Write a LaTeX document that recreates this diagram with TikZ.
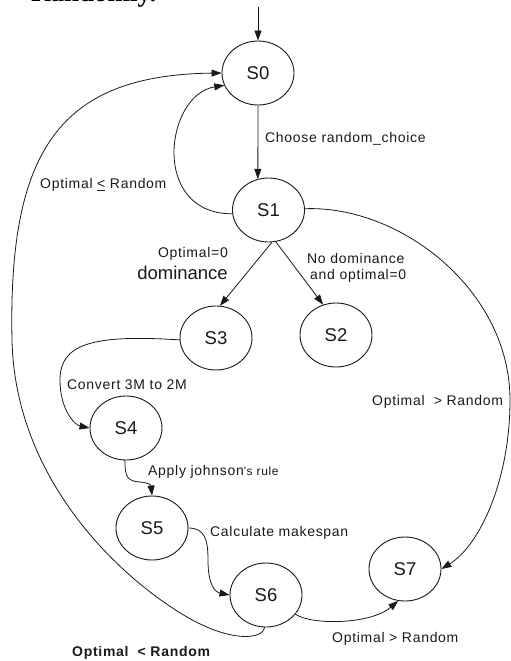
\documentclass[tikz,border=0pt]{standalone}
\usepackage{fontspec}
\setmainfont{Liberation Sans}
\newfontfamily\labelfont[LetterSpace=5]{Liberation Sans}
\newfontfamily\headfont{Liberation Serif}
\usetikzlibrary{arrows.meta, shapes.geometric}
\definecolor{Ink}{HTML}{1A1A1A}
\definecolor{Paper}{HTML}{FFFFFF}

\begin{document}
\begin{tikzpicture}[x=1pt,y=-1pt,>={Triangle[length=10pt,width=7pt]},state/.style={ellipse, draw=Ink, line width=0.9pt, minimum width=72pt, minimum height=64pt, inner sep=0pt, text=Ink, font=\fontsize{18.5}{20}\selectfont},link/.style={->, line width=0.8pt, draw=Ink},labeltext/.style={text=Ink, inner sep=0pt, font=\labelfont\fontsize{14}{16}\selectfont},boldtext/.style={labeltext, font=\labelfont\fontsize{14}{16}\selectfont\bfseries},bigtext/.style={text=Ink, inner sep=0pt, font=\fontsize{18.5}{20}\selectfont}]
\fill[Paper] (0,0) rectangle (511,661);
\useasboundingbox (0,0) rectangle (511,661);
% caption line cut off above the picture
\node[anchor=base west, inner sep=0pt, font=\headfont\fontsize{27}{29}\selectfont\bfseries] (captiontail) at (31,1.5) {Randomly.};
% states
\node[state] (s0) at (258,73) {S0};
\node[state] (s1) at (268.5,210) {S1};
\node[state] (s2) at (336,335) {S2};
\node[state] (s3) at (216,338) {S3};
\node[state] (s4) at (126,428) {S4};
\node[state] (s5) at (152,528) {S5};
\node[state] (s6) at (266,595) {S6};
\node[state] (s7) at (405,569) {S7};
\coordinate (entry) at (258,7);
% transitions
\draw[link] (entry) -- (s0.north);
\draw[link] (s0.south) -- (s1.109);
\draw[link] (s1.186) .. controls (150,214) and (165,95) .. (s0.200);
\draw[link] (s6.268) .. controls (262,640) and (230,642) .. (187,617) .. controls (120,578) and (15,480) .. (12,340) .. controls (8,150) and (60,75) .. (s0.180);
\draw[link] (s1.2) .. controls (400,205) and (510,290) .. (510,400) .. controls (510,480) and (480,545) .. (s7.east);
\draw[link] (s1.276) -- (s3.83);
\draw[link] (s1.283) -- (s2.113);
\draw[link] (s3.183) .. controls (90,334) and (60,345) .. (60,380) .. controls (60,410) and (75,425) .. (s4.180);
\draw[link] (s4.268) .. controls (125,478) and (128,481) .. (140,482) .. controls (150,483) and (151,485) .. (s5.north);
\draw[link] (s5.east) .. controls (205,528) and (208,540) .. (208,560) .. controls (208,585) and (215,592) .. (s6.west);
\draw[link] (s6.327) .. controls (310,625) and (370,625) .. (s7.258);
% transition labels
\node[labeltext, anchor=west] (lchoose) at (265,139) {Choose random\_choice};
\node[labeltext, anchor=west] (lback) at (40,185) {Optimal \underline{<} Random};
\node[labeltext, anchor=east] (lzero) at (228,254) {Optimal=0};
\node[bigtext, anchor=east] (ldom) at (228,273) {dominance};
\node[labeltext, anchor=west] (lnodom) at (307,258) {No dominance};
\node[labeltext, anchor=west] (lnodomb) at (310,276) {and optimal=0};
\node[labeltext, anchor=west] (lconvert) at (67,385) {Convert 3M to 2M};
\node[labeltext, anchor=west] (lbetter) at (372,402) {Optimal\ \ > Random};
\node[labeltext, anchor=west] (ljohnson) at (148,472) {Apply johnson{\fontsize{12}{14}\selectfont's rule}};
\node[labeltext, anchor=west] (lmake) at (210,533) {Calculate makespan};
\node[labeltext, anchor=west] (lbetterb) at (332,639) {Optimal > Random};
\node[boldtext, anchor=west] (lworse) at (72,653) {Optimal\ \ < Random};
\end{tikzpicture}
\end{document}
